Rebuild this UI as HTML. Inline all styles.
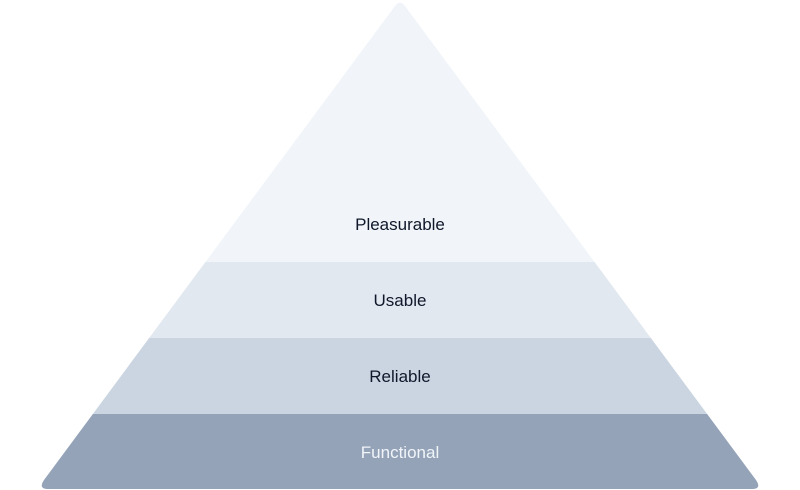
<!DOCTYPE html>
<html><head><meta charset="utf-8"><style>
html,body{margin:0;padding:0;background:#fff;}
svg{display:block;}
text{font-family:"Liberation Sans",sans-serif;font-size:17px;text-anchor:middle;}
</style></head><body>
<svg width="800" height="490" viewBox="0 0 800 490">
<defs><clipPath id="c"><path d="M395,6 Q400,-1 405,6 L756,480 Q762,489 752,489 L48,489 Q38,489 44,480 Z"/></clipPath></defs>
<g clip-path="url(#c)">
<rect x="0" y="0" width="800" height="262" fill="#f1f5f9"/>
<rect x="0" y="262" width="800" height="76" fill="#e2e8f0"/>
<rect x="0" y="338" width="800" height="76" fill="#cbd5e1"/>
<rect x="0" y="414" width="800" height="76" fill="#94a3b8"/>
</g>
<text x="400" y="230" fill="#0f172a">Pleasurable</text>
<text x="400" y="306" fill="#0f172a">Usable</text>
<text x="400" y="382" fill="#0f172a">Reliable</text>
<text x="400" y="458" fill="#f1f5f9">Functional</text>
</svg>
</body></html>
